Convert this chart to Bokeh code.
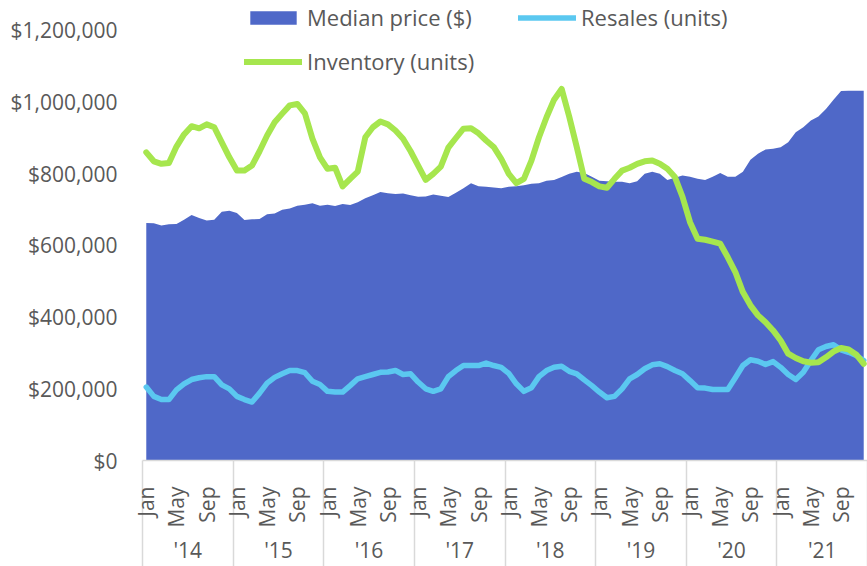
import math
from bokeh.plotting import figure
from bokeh.models import (Range1d, LinearAxis, FixedTicker, NumeralTickFormatter,
                          Legend, LegendItem, ColumnDataSource)
from bokeh.embed import file_html
from bokeh.resources import INLINE

# ---------------- data ----------------
month_names = ["Jan", "Feb", "Mar", "Apr", "May", "Jun",
               "Jul", "Aug", "Sep", "Oct", "Nov", "Dec"]
shown_months = ["Jan", "May", "Sep"]
year_labels = ["'14", "'15", "'16", "'17", "'18", "'19", "'20", "'21"]

median_price = [
    663000, 662000, 656000, 659000, 660000, 672000, 685000, 677000, 670000, 672000, 694000, 697000,
    691000, 671000, 673000, 674000, 687000, 689000, 700000, 703000, 711000, 714000, 718000, 711000,
    714000, 710000, 716000, 713000, 721000, 732000, 740000, 749000, 746000, 744000, 745000, 740000,
    736000, 737000, 742000, 739000, 735000, 747000, 760000, 774000, 765000, 764000, 762000, 760000,
    764000, 765000, 768000, 772000, 774000, 781000, 783000, 791000, 800000, 806000, 802000, 792000,
    781000, 779000, 778000, 778000, 774000, 779000, 800000, 806000, 800000, 783000, 789000, 795000,
    792000, 786000, 783000, 792000, 802000, 792000, 792000, 806000, 839000, 856000, 868000, 870000,
    874000, 888000, 916000, 930000, 949000, 960000, 981000, 1007000, 1031000, 1032000, 1032000, 1032000,
]

resales = [
    205000, 179000, 170000, 170000, 197000, 214000, 226000, 231000, 234000, 234000, 211000, 200000,
    179000, 170000, 163000, 188000, 216000, 232000, 242000, 251000, 251000, 245000, 221000, 212000,
    193000, 191000, 191000, 209000, 228000, 234000, 240000, 246000, 247000, 251000, 240000, 242000,
    219000, 200000, 193000, 200000, 234000, 251000, 265000, 265000, 265000, 272000, 265000, 260000,
    243000, 214000, 193000, 203000, 234000, 251000, 260000, 263000, 249000, 242000, 225000, 209000,
    191000, 175000, 179000, 200000, 228000, 240000, 256000, 267000, 270000, 262000, 251000, 242000,
    223000, 203000, 202000, 198000, 198000, 198000, 231000, 265000, 281000, 277000, 268000, 276000,
    260000, 240000, 226000, 246000, 279000, 309000, 318000, 323000, 309000, 302000, 293000, 279000,
]

inventory = [
    860000, 835000, 828000, 830000, 876000, 910000, 933000, 927000, 938000, 930000, 888000, 846000,
    809000, 809000, 823000, 863000, 907000, 944000, 968000, 991000, 995000, 969000, 898000, 846000,
    814000, 817000, 765000, 786000, 806000, 902000, 930000, 946000, 938000, 921000, 898000, 863000,
    823000, 783000, 800000, 820000, 873000, 900000, 926000, 927000, 913000, 893000, 875000, 842000,
    800000, 774000, 786000, 837000, 902000, 958000, 1007000, 1037000, 960000, 875000, 786000, 777000,
    765000, 761000, 786000, 809000, 817000, 828000, 835000, 837000, 828000, 814000, 791000, 736000,
    665000, 619000, 616000, 611000, 605000, 567000, 526000, 470000, 433000, 405000, 386000, 363000,
    335000, 298000, 286000, 277000, 273000, 274000, 288000, 304000, 314000, 310000, 296000, 270000,
]

y_ticks = [0, 200000, 400000, 600000, 800000, 1000000, 1200000]

# ---------------- styles ----------------
FONT = "Open Sans"
TXT = "#595959"
FS = "21px"
LFS = "22px"
C_PRICE = "#4F68C8"
C_RES = "#5BC8F0"
C_INV = "#A6E64E"
SEP = "#D9D9D9"
SEP_LEN = 110

n = len(median_price)
xs = [i + 0.5 for i in range(n)]
src = ColumnDataSource(dict(x=xs, price=median_price, resales=resales, inventory=inventory))

p = figure(width=867, height=566, output_backend="svg", toolbar_location=None,
           x_range=Range1d(0, n), y_range=Range1d(0, 1283700),
           x_axis_location=None,
           min_border_left=142, min_border_right=0, min_border_top=0, min_border_bottom=106)
p.outline_line_color = None
p.xgrid.visible = False
p.ygrid.visible = False
p.background_fill_color = "white"
p.border_fill_color = "white"

area = p.varea(x="x", y1=0, y2="price", source=src, fill_color=C_PRICE)
l_res = p.line(x="x", y="resales", source=src, line_color=C_RES, line_width=5.5,
               line_join="round", line_cap="round")
l_inv = p.line(x="x", y="inventory", source=src, line_color=C_INV, line_width=6,
               line_join="round", line_cap="round")

# y axis
ya = p.yaxis[0]
ya.ticker = FixedTicker(ticks=y_ticks)
ya.formatter = NumeralTickFormatter(format="$0,0")
ya.axis_line_color = None
ya.major_tick_line_color = None
ya.minor_tick_line_color = None
ya.major_label_standoff = 19
ya.major_label_text_font = FONT
ya.major_label_text_font_size = FS
ya.major_label_text_color = TXT

# month axis (its minor ticks draw the year separators)
month_ticks = [xs[i] for i in range(n) if month_names[i % 12] in shown_months]
month_over = {xs[i]: month_names[i % 12] for i in range(n) if month_names[i % 12] in shown_months}
year_bounds = [12 * k for k in range(len(year_labels) + 1)]
month_axis = LinearAxis(
    ticker=FixedTicker(ticks=month_ticks, minor_ticks=year_bounds),
    major_label_overrides=month_over,
    major_label_orientation=math.pi / 2,
    major_label_standoff=26 - SEP_LEN,
    major_tick_in=0, major_tick_out=0,
    minor_tick_in=0, minor_tick_out=SEP_LEN,
    minor_tick_line_color=SEP, minor_tick_line_width=1.5,
    major_tick_line_color=None,
    axis_line_color=SEP, axis_line_width=1.5,
    major_label_text_font=FONT, major_label_text_font_size=FS,
    major_label_text_color=TXT,
)
p.add_layout(month_axis, "below")

# year axis (second category level), labels centred on each year
year_centers = [12 * k + 6 for k in range(len(year_labels))]
year_axis = LinearAxis(
    ticker=FixedTicker(ticks=year_centers, minor_ticks=[]),
    major_label_overrides={c: lab for c, lab in zip(year_centers, year_labels)},
    major_label_standoff=5,
    major_tick_in=0, major_tick_out=0,
    major_tick_line_color=None, minor_tick_line_color=None,
    axis_line_color=None,
    major_label_text_font=FONT, major_label_text_font_size=FS,
    major_label_text_color=TXT,
)
p.add_layout(year_axis, "below")

legend = Legend(
    items=[LegendItem(label="Median price ($)", renderers=[area]),
           LegendItem(label="Resales (units)", renderers=[l_res]),
           LegendItem(label="Inventory (units)", renderers=[l_inv])],
    location=(102, 384), orientation="horizontal", ncols=2,
    glyph_width=58, glyph_height=17, label_standoff=5, label_width=197,
    spacing=14, padding=0, margin=0,
    border_line_color=None, background_fill_alpha=0,
    label_text_font=FONT, label_text_font_size=LFS, label_text_color=TXT,
)
p.add_layout(legend)

open("out.html", "w").write(file_html(p, INLINE))
